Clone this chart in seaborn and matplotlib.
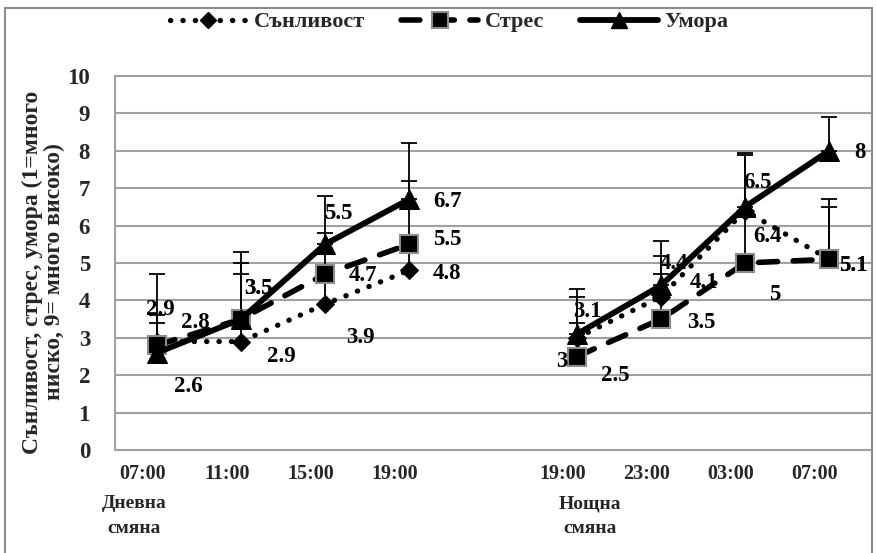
import numpy as np
import pandas as pd
import matplotlib
matplotlib.use("Agg")
import matplotlib.pyplot as plt
import seaborn as sns
from matplotlib.lines import Line2D
from matplotlib.patches import Rectangle
from matplotlib.transforms import ScaledTranslation

# ---------------- data ----------------
times = ["07:00", "11:00", "15:00", "19:00", "", "19:00", "23:00", "03:00", "07:00"]
shift_labels = ["Дневна\nсмяна", "Нощна\nсмяна"]
series_names = ["Сънливост", "Стрес", "Умора"]

sleepiness = [2.9, 2.9, 3.9, 4.8, np.nan, 3.0, 4.1, 6.4, 5.1]
stress     = [2.8, 3.5, 4.7, 5.5, np.nan, 2.5, 3.5, 5.0, 5.1]
fatigue    = [2.6, 3.5, 5.5, 6.7, np.nan, 3.1, 4.4, 6.5, 8.0]

sleepiness_err = [0.5, 1.8, 0.8, 0.7, np.nan, 1.1, 1.1, 1.5, 1.4]
stress_err     = [1.9, 1.5, 1.1, 1.7, np.nan, 0.9, 1.2, 1.3, 1.6]
fatigue_err    = [1.0, 1.8, 1.3, 1.5, np.nan, 1.2, 1.2, 1.45, 0.9]

# label offsets (pixels) for each data label
sleep_off  = [(3, 32), (40, -15), (35, -33), (38, -3), None, (-15, -24), (43, 14), (22, -26), (24, -6)]
stress_off = [(38, 23), (17, 31), (38, -1), (38, 5), None, (38, -19), (40, -3), (30, -32), (24, -6)]
fat_off    = [(31, -34), (17, 31), (13, 31), (38, -2), None, (10, 23), (13, 22), (12, 24), (31, -2)]

# ---------------- style ----------------
sns.set_theme(style="white")
plt.rcParams["font.family"] = ["Liberation Serif", "DejaVu Serif"]
plt.rcParams["font.weight"] = "bold"

fig = plt.figure(figsize=(8.76, 5.53), dpi=100)
ax = fig.add_axes([115 / 876, 1 - 450 / 553, 756 / 876, 374 / 553])

pos = np.arange(len(times))
seg = np.where(pos < 4, 0, 1)

def frame(vals):
    d = pd.DataFrame({"pos": pos, "val": vals, "seg": seg})
    return d.dropna()

# error bars (upper only)
for vals, err in [(sleepiness, sleepiness_err), (stress, stress_err), (fatigue, fatigue_err)]:
    v = np.array(vals, float)
    e = np.array(err, float)
    m = ~np.isnan(v)
    ax.errorbar(pos[m], v[m], yerr=[np.zeros(m.sum()), e[m]], fmt="none",
                ecolor="black", elinewidth=1.3, capsize=6, capthick=1.3, zorder=2)

sleep_ls = (0, (0.05, 2.3))
stress_ls = (0, (3.4, 2.8))

sns.lineplot(data=frame(sleepiness), x="pos", y="val", units="seg", estimator=None,
             ax=ax, color="black", linestyle=sleep_ls, linewidth=3.8,
             dash_capstyle="round", marker="D", markersize=9,
             markerfacecolor="black", markeredgecolor="black", zorder=3)
sns.lineplot(data=frame(stress), x="pos", y="val", units="seg", estimator=None,
             ax=ax, color="black", linestyle=stress_ls, linewidth=4,
             dash_capstyle="round", marker="s", markersize=13,
             markerfacecolor="black", markeredgecolor="#8c8c8c",
             markeredgewidth=1.5, zorder=4)
sns.lineplot(data=frame(fatigue), x="pos", y="val", units="seg", estimator=None,
             ax=ax, color="black", linestyle="-", linewidth=4.2,
             marker="^", markersize=14, markerfacecolor="black",
             markeredgecolor="black", zorder=5)

# data labels
for vals, offs in [(sleepiness, sleep_off), (stress, stress_off), (fatigue, fat_off)]:
    for i, (v, o) in enumerate(zip(vals, offs)):
        if o is None or np.isnan(v):
            continue
        ax.annotate(f"{v:g}", (pos[i], v), xytext=o, textcoords="offset pixels",
                    ha="center", va="center", fontsize=16.5, fontweight="bold",
                    color="black", zorder=6)

# axes
ax.set_xlim(-0.5, 8.5)
ax.set_ylim(0, 10)
ax.set_yticks(range(0, 11))
ax.yaxis.grid(True, color="#a0a0a0", linewidth=1.5)
ax.xaxis.grid(False)
ax.set_xticks(pos)
ax.set_xticklabels(times)
ax.tick_params(axis="x", length=0, pad=10, labelsize=14.5)
ax.tick_params(axis="y", length=0, pad=18, labelsize=16.5)
for lab in ax.get_xticklabels():
    lab.set_fontweight("bold")
    lab.set_transform(lab.get_transform() + ScaledTranslation(-0.14, 0, fig.dpi_scale_trans))
for lab in ax.get_yticklabels():
    lab.set_fontweight("bold")
for s in ["left", "bottom", "top"]:
    ax.spines[s].set_color("#a0a0a0")
    ax.spines[s].set_linewidth(1.5)
ax.spines["right"].set_visible(False)
ax.set_xlabel("")
ax.set_ylabel("")

# group labels
fig.text(134 / 876, 1 - 516 / 553, shift_labels[0], ha="center", va="center",
         fontsize=14, fontweight="bold", linespacing=1.55)
fig.text(590 / 876, 1 - 516 / 553, shift_labels[1], ha="center", va="center",
         fontsize=14, fontweight="bold", linespacing=1.55)

# y label
fig.text(43 / 876, 1 - 272 / 553, "Сънливост, стрес, умора (1=много\nниско, 9= много високо)",
         rotation=90, ha="center", va="center", fontsize=17, fontweight="bold",
         linespacing=1.05)

# legend
handles = [
    Line2D([], [], color="black", linestyle=sleep_ls, linewidth=3.8, dash_capstyle="round",
           marker="D", markersize=8, markerfacecolor="black", markeredgecolor="black"),
    Line2D([], [], color="black", linestyle=stress_ls, linewidth=4, dash_capstyle="round",
           marker="s", markersize=11, markerfacecolor="black", markeredgecolor="#8c8c8c",
           markeredgewidth=1.5),
    Line2D([], [], color="black", linestyle="-", linewidth=4.2, marker="^", markersize=12,
           markerfacecolor="black", markeredgecolor="black"),
]
fig.legend(handles, series_names, loc="center", bbox_to_anchor=(449 / 876, 1 - 22 / 553),
           ncol=3, frameon=False, handlelength=3.5, columnspacing=1.6, handletextpad=0.3,
           prop={"size": 16, "weight": "bold"})

# outer border
fig.patches.append(Rectangle((5 / 876, -0.05), 867 / 876, 1.05 - 8 / 553,
                             transform=fig.transFigure, fill=False,
                             edgecolor="#8c8c8c", linewidth=1.5))

fig.savefig("out.png", dpi=100)
